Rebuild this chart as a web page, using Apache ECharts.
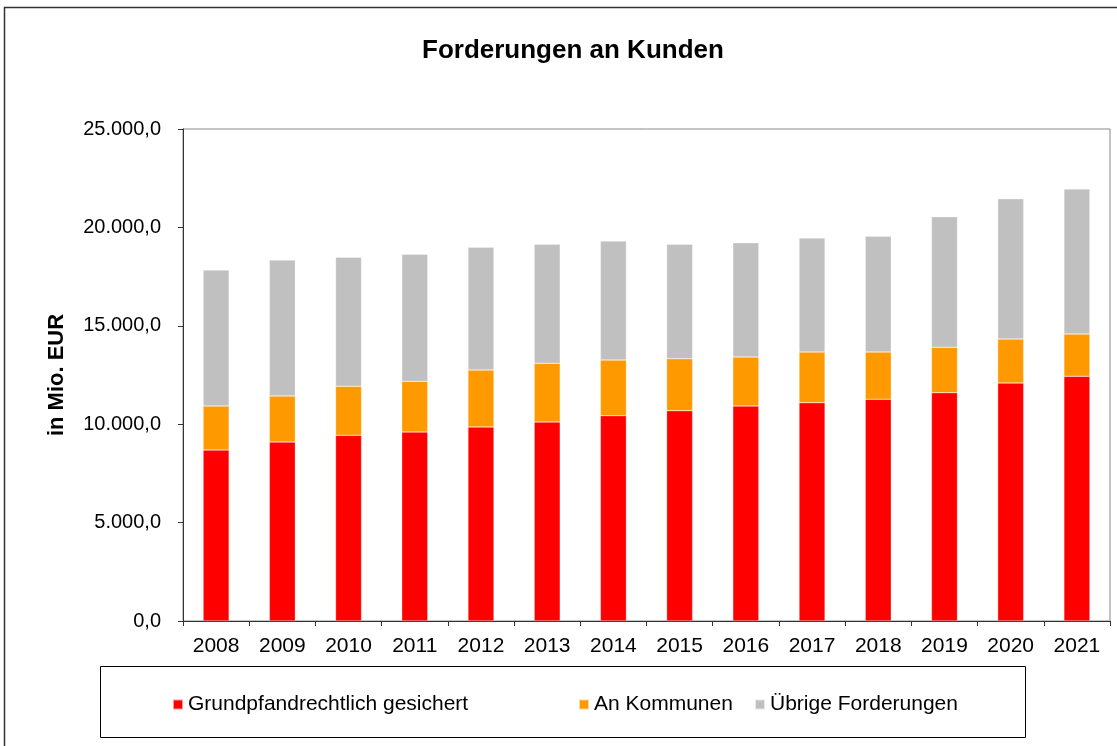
<!DOCTYPE html>
<html><head><meta charset="utf-8">
<script src="https://cdn.jsdelivr.net/npm/echarts@6/dist/echarts.min.js"></script>
<style>html,body{margin:0;padding:0;background:#fff}#c{width:1117px;height:746px}</style>
</head><body><div id="c"></div>
<script>
const categories = ['2008','2009','2010','2011','2012','2013','2014','2015','2016','2017','2018','2019','2020','2021'];
const grundpfand = [8689, 9095, 9436, 9604, 9858, 10112, 10432, 10686, 10925, 11093, 11265, 11601, 12093, 12434];
const kommunen = [2236, 2338, 2490, 2576, 2896, 2982, 2830, 2642, 2490, 2576, 2404, 2306, 2236, 2149];
const uebrige = [6910, 6910, 6555, 6453, 6235, 6047, 6047, 5813, 5808, 5792, 5879, 6637, 7129, 7368];
const seriesNames = ['Grundpfandrechtlich gesichert', 'An Kommunen', 'Übrige Forderungen'];

const FONT = '"Liberation Sans", Arial, sans-serif';
function deFmt(v){
  const s = Math.round(v).toString().replace(/\B(?=(\d{3})+(?!\d))/g, '.');
  return s + ',0';
}
const chart = echarts.init(document.getElementById('c'), null, {renderer:'canvas'});
const colors = ['#ff0000', '#ff9900', '#c0c0c0'];
const mk = (name, data, i) => ({
  name, type:'bar', stack:'t', data, barWidth: 26,
  itemStyle:{color:colors[i], borderColor:'rgba(255,255,255,0.6)', borderWidth:0.5},
  emphasis:{disabled:true}
});
const legText = {fontFamily:FONT, fontSize:21, color:'#000'};
chart.setOption({
  animation:false,
  textStyle:{fontFamily:FONT},
  title:{text:'Forderungen an Kunden', left:417, top:33,
    textStyle:{fontFamily:FONT, fontSize:26, fontWeight:'bold', color:'#000'}},
  graphic:[
    {type:'rect', shape:{x:4.5, y:7.5, width:1200, height:800}, style:{fill:'none', stroke:'#333', lineWidth:1.5}, silent:true, z:-1},
    {type:'rect', shape:{x:100.5, y:666.5, width:925, height:71}, style:{fill:'none', stroke:'#000', lineWidth:1}, silent:true}
  ],
  legend:[
    {data:[seriesNames[0]], left:167, top:689, itemWidth:10, itemHeight:10, icon:'rect', textStyle:legText},
    {data:[seriesNames[1]], left:573, top:689, itemWidth:10, itemHeight:10, icon:'rect', textStyle:legText},
    {data:[seriesNames[2]], left:749, top:689, itemWidth:10, itemHeight:10, icon:'rect', textStyle:legText}
  ],
  grid:{left:183, right:7, top:129, bottom:125, show:true, borderColor:'#888', borderWidth:1},
  xAxis:{type:'category', data:categories,
    axisLine:{lineStyle:{color:'#333', width:1}},
    axisTick:{show:true, alignWithLabel:false, length:5, lineStyle:{color:'#333'}},
    axisLabel:{fontFamily:FONT, fontSize:21, color:'#000', margin:15}},
  yAxis:{type:'value', min:0, max:25000, interval:5000,
    name:'in Mio. EUR', nameLocation:'middle', nameGap:115, nameRotate:90,
    nameTextStyle:{fontFamily:FONT, fontSize:22, fontWeight:'bold', color:'#000'},
    axisLine:{show:true, lineStyle:{color:'#333', width:1}},
    axisTick:{show:true, length:5, lineStyle:{color:'#333'}},
    splitLine:{show:false},
    axisLabel:{fontFamily:FONT, fontSize:20, color:'#000', margin:22, formatter:deFmt}},
  series:[mk(seriesNames[0], grundpfand, 0), mk(seriesNames[1], kommunen, 1), mk(seriesNames[2], uebrige, 2)]
});
</script></body></html>
